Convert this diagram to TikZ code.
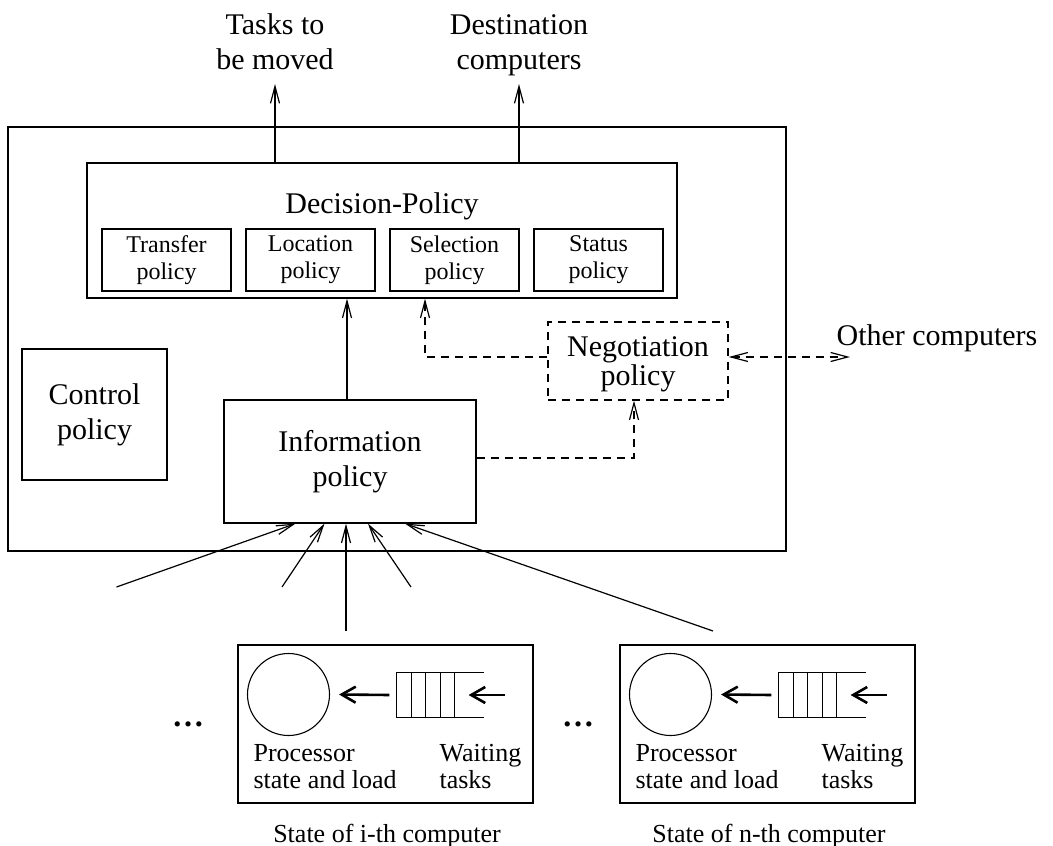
\documentclass[tikz,border=0pt]{standalone}
\usepackage{fontspec}
\setmainfont{Liberation Serif}
\usetikzlibrary{arrows.meta,calc}

\tikzset{
  >={Straight Barb[length=17pt,width=9pt]},
  box/.style 2 args={draw, inner sep=0pt, minimum width=#1, minimum height=#2},
  big/.style={font=\fontsize{30}{35}\selectfont, align=center},
  small/.style={font=\fontsize{24}{27}\selectfont, align=center},
  lab/.style={font=\fontsize{26}{27}\selectfont, align=left, inner sep=0pt},
  caption/.style={font=\fontsize{26}{27}\selectfont, inner sep=0pt},
  dashline/.style={dash pattern=on 8pt off 6pt},
  arr/.style={->},
  thickarr/.style={line width=2.6pt, -{Straight Barb[length=14pt,width=16pt]}},
}

\begin{document}
\begin{tikzpicture}[x=1pt, y=-1pt, line width=1.2pt]
\useasboundingbox (0,0) rectangle (1053,846);

% the load-balancing unit and its decision part
\node[box={778pt}{424pt}] (outer) at (397,339) {};
\node[box={590pt}{135pt}] (dec) at (382,230.5) {};
\node[big, anchor=base] (dectitle) at (382,213) {Decision-Policy};
\node[box={129pt}{62pt}, small] (transfer)  at (166.5,260) {Transfer\\policy};
\node[box={129pt}{62pt}, small] (location)  at (310.5,260) {Location\\policy};
\node[box={129pt}{62pt}, small] (selection) at (454.5,260) {Selection\\policy};
\node[box={129pt}{62pt}, small] (status)    at (598.5,260) {Status\\policy};

\node[box={145pt}{131pt}, big] (control) at (94.5,414.5) {Control\\policy};
\node[box={252pt}{123pt}, big] (info) at (350,461.5) {Information\\policy};
\node[box={180pt}{78pt}, dashline] (neg) at (638,361) {};
\node[big, anchor=base, font=\fontsize{30}{29}\selectfont] (negtext) at (638,385) {Negotiation\\policy};

% outputs of the decision policy
\node[big, anchor=base] (tasks) at (275,69) {Tasks to\\be moved};
\node[big, anchor=base] (dest) at (519,69) {Destination\\computers};
\draw[arr] (dec.north -| tasks.south) -- (tasks.south |- 0,84);
\draw[arr] (dec.north -| dest.south) -- (dest.south |- 0,84);

% information flow inside the unit
\draw[arr] ([xshift=-3pt]info.north) -- ([xshift=-3pt]info.north |- dec.south);
\draw[arr, dashline] ([yshift=4pt]neg.west) -| ([xshift=43pt]dec.south);
\draw[arr, dashline] ([yshift=3.5pt]info.east) -| ([xshift=-4pt]neg.south);

% exchange with other computers
\coordinate (oc) at (850,357);
\draw[<->, dashline] ([yshift=4pt]neg.east) -- (oc);
\node[big, anchor=base west, inner sep=0pt] (other) at (836,345) {Other computers};

% state reports coming from the computers
\coordinate (s1) at (116.5,587);
\coordinate (s2) at (282,587);
\coordinate (s3) at (346,631);
\coordinate (s4) at (411,587);
\coordinate (s5) at (713,631);
\draw[arr] (s1) -- ([xshift=-54.5pt]info.south);
\draw[arr] (s2) -- ([xshift=-25.5pt]info.south);
\draw[arr] (s3) -- ([xshift=-4pt]info.south);
\draw[arr] (s4) -- ([xshift=18pt]info.south);
\draw[arr] (s5) -- ([xshift=55pt]info.south);

% state of single computers
\node[font=\fontsize{32}{30}\selectfont\bfseries] (dots1) at (188,724) {\dots};
\node[font=\fontsize{32}{30}\selectfont\bfseries] (dots2) at (578,724) {\dots};

\foreach \i/\dx/\which in {1/0/i, 2/382/n}{
  \begin{scope}[xshift=\dx pt]
    \node[box={295pt}{158pt}] (st\i) at (385.5,724) {};
    \node[draw, circle, minimum size=82pt, inner sep=0pt, line width=1.1pt] (p\i) at (288.5,694.5) {};
    \node[inner sep=0pt, minimum width=86pt, minimum height=44pt] (q\i) at (440,695) {};
    \draw[line width=1.1pt] (q\i.north east) -- (q\i.north west) -- (q\i.south west) -- (q\i.south east);
    \foreach \k in {14.7,29,43.7,58}
      \draw[line width=1.1pt] ([xshift=\k pt]q\i.north west) -- ([xshift=\k pt]q\i.south west);
    \draw[thickarr] ([xshift=-7pt]q\i.west) -- ([xshift=9pt]p\i.east);
    \coordinate (in\i) at (505,695);
    \draw[thickarr] (in\i) -- ([xshift=-15pt]q\i.east);
    \node[lab, anchor=base west] (pl\i) at (253,788) {Processor\\state and load};
    \node[lab, anchor=base west] (wl\i) at (439,788) {Waiting\\tasks};
    \node[caption, anchor=base] (cap\i) at (387,842) {State of \which-th computer};
  \end{scope}
}
\end{tikzpicture}
\end{document}
